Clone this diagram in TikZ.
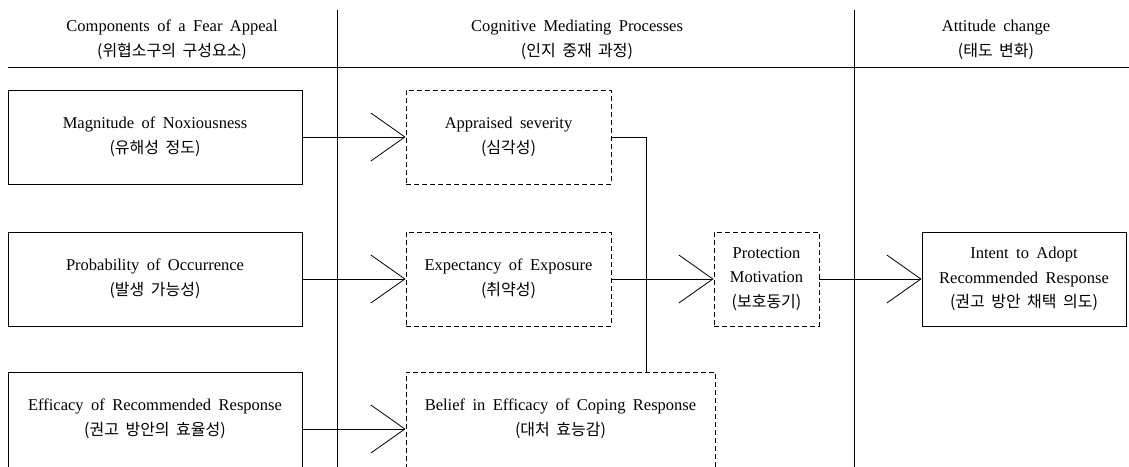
\documentclass[tikz,border=0pt]{standalone}
\usepackage{fontspec}
\setmainfont{Liberation Serif}[WordSpace=1.8]
\newfontfamily\kr{Noto Sans CJK KR}[WordSpace=1.8,Scale=0.97]
\usetikzlibrary{arrows.meta}
\begin{document}
\begin{tikzpicture}[x=1pt,y=-1pt,
  every node/.style={font=\fontsize{16.5}{24.5}\selectfont},
  box/.style={draw,line width=0.9pt,inner sep=0pt,align=center},
  dbox/.style={box,dash pattern=on 5pt off 3pt},
  txt/.style={align=center,inner sep=0pt},
  conn/.style={line width=0.8pt},
  arr/.style={conn,-{Straight Barb[length=34pt,width=48pt,line width=0.8pt]}},
  rule/.style={line width=0.9pt}]
\useasboundingbox (0,0) rectangle (1129,466);
\clip (0,0) rectangle (1129,466);
% header
\node[txt] (h1) at (172,40) {Components of a Fear Appeal\\{\kr (위협소구의 구성요소)}};
\node[txt] (h2) at (577,40) {Cognitive Mediating Processes\\{\kr (인지 중재 과정)}};
\node[txt] (h3) at (996,40) {Attitude change\\{\kr (태도 변화)}};
\coordinate (hl) at (8,67);
\coordinate (hr) at (1129,67);
\draw[rule] (hl) -- (hr);
\coordinate (v1t) at (337,10);
\coordinate (v1b) at (337,470);
\coordinate (v2t) at (854,10);
\coordinate (v2b) at (854,470);
\draw[rule] (v1t) -- (v1b);
\draw[rule] (v2t) -- (v2b);
% left column
\node[box,minimum width=294pt,minimum height=94pt] (mag) at (155,137) {Magnitude of Noxiousness\\{\kr (유해성 정도)}};
\node[box,minimum width=294pt,minimum height=94pt] (prob) at (155,279) {Probability of Occurrence\\{\kr (발생 가능성)}};
\node[box,minimum width=294pt,minimum height=114pt] (eff) at (155,429) {};
\node[txt] (efft) at (155,419) {Efficacy of Recommended Response\\{\kr (권고 방안의 효율성)}};
% middle column
\node[dbox,minimum width=205pt,minimum height=94pt] (appr) at (508.5,137) {Appraised severity\\{\kr (심각성)}};
\node[dbox,minimum width=205pt,minimum height=94pt] (expo) at (508.5,279) {Expectancy of Exposure\\{\kr (취약성)}};
\node[dbox,minimum width=309pt,minimum height=114pt] (bel) at (560.5,429) {};
\node[txt] (belt) at (560.5,419) {Belief in Efficacy of Coping Response\\{\kr (대처 효능감)}};
\node[dbox,minimum width=105pt,minimum height=94pt] (prot) at (766.5,279) {Protection\\Motivation\\{\kr (보호동기)}};
% right column
\node[box,minimum width=204pt,minimum height=94pt] (int) at (1024,279) {Intent to Adopt\\Recommended Response\\{\kr (권고 방안 채택 의도)}};
% connectors
\draw[arr] (mag.east) -- (appr.west);
\draw[arr] (prob.east) -- (expo.west);
\draw[arr] (eff.east) -- (bel.west);
\draw[arr] (expo.east) -- (prot.west);
\draw[arr] (prot.east) -- (int.west);
\coordinate (j1) at (646,137);
\coordinate (j2) at (646,372);
\draw[conn] (appr.east) -- (j1) -- (j2);
\end{tikzpicture}
\end{document}
